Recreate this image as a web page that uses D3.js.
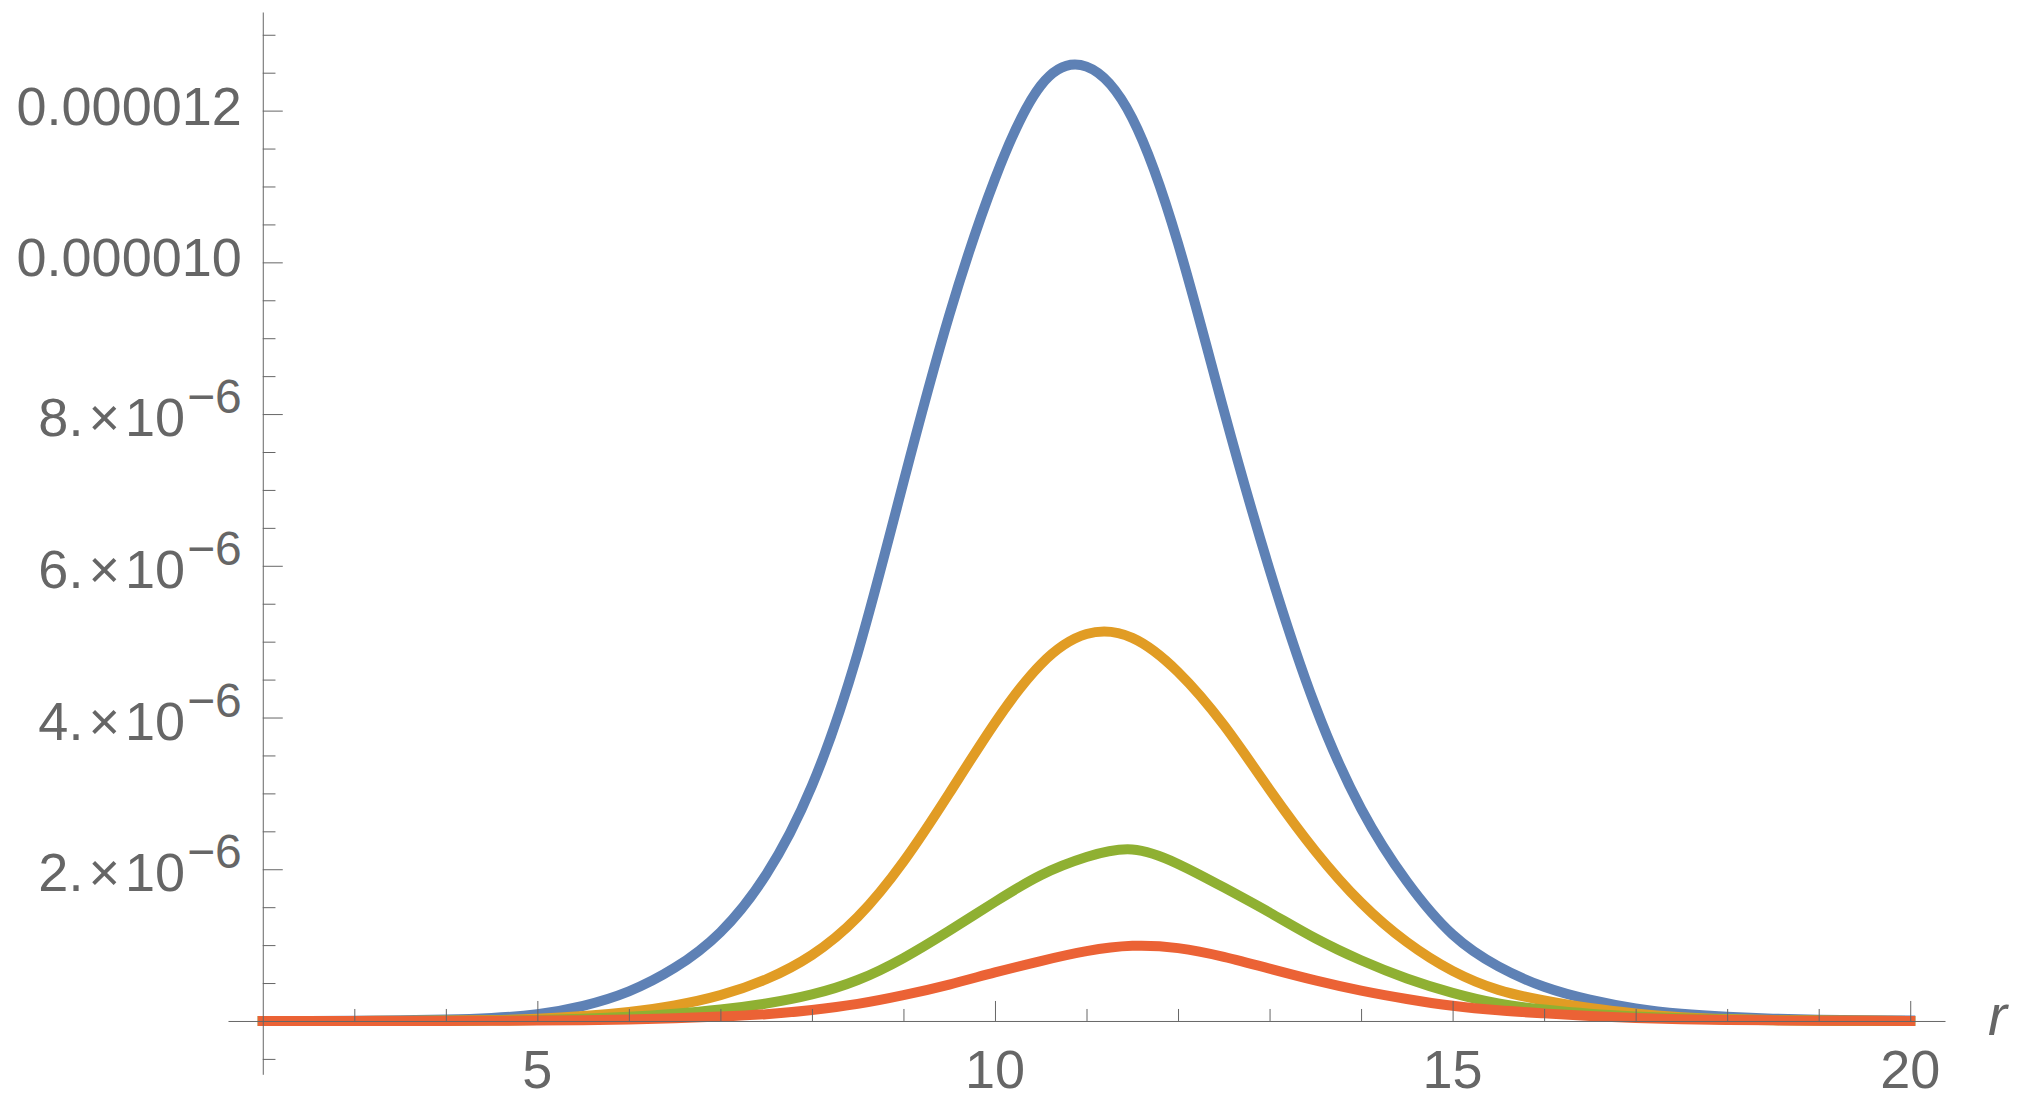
<!DOCTYPE html>
<html>
<head>
<meta charset="utf-8">
<script src="https://cdn.jsdelivr.net/npm/d3@7"></script>
<style>
    html, body { margin: 0; padding: 0; background: #fff; overflow: hidden; }
    svg { display: block; }
    .tick-label { fill: #666; font-family: "Liberation Sans", Arial, sans-serif; font-size: 54px; }
    .axis-title { fill: #666; font-family: "Liberation Sans", Arial, sans-serif; font-size: 57px; font-style: italic; }
</style>
</head>
<body>
<div id="chart"></div>
<script>
// r grid shared by all four curves
const rValues = [2, 2.5, 3, 3.5, 4, 4.5, 5, 5.5, 6, 6.5, 7, 7.5, 8, 8.5, 9, 9.5, 10, 10.5, 11, 11.5,
                 12, 12.5, 13, 13.5, 14, 14.5, 15, 15.5, 16, 16.5, 17, 17.5, 18, 18.5, 19, 19.5, 20];

// curve values, in units of 10^-6
const yUnit = 1e-6;
const blueValues = [0.0003, 0.001, 0.003, 0.008, 0.018, 0.04, 0.09, 0.2, 0.39, 0.7, 1.17, 1.93, 3.1, 4.85, 7.1, 9.3, 11.1, 12.33, 12.58, 11.9,
                    10.25, 8.05, 5.95, 4.15, 2.8, 1.84, 1.14, 0.72, 0.45, 0.28, 0.165, 0.095, 0.055, 0.03, 0.017, 0.01, 0.006];
const orangeValues = [0, 0.0002, 0.001, 0.002, 0.005, 0.012, 0.03, 0.065, 0.12, 0.205, 0.34, 0.55, 0.87, 1.37, 2.1, 3.0, 3.93, 4.7, 5.1, 5.05,
                      4.6, 3.9, 3.05, 2.24, 1.56, 1.04, 0.66, 0.41, 0.27, 0.17, 0.1, 0.05, 0.025, 0.012, 0.006, 0.003, 0.001];
const greenValues = [0, 0, 0.0003, 0.001, 0.002, 0.005, 0.012, 0.028, 0.055, 0.095, 0.15, 0.23, 0.35, 0.54, 0.83, 1.19, 1.57, 1.92, 2.16, 2.26,
                     2.07, 1.76, 1.43, 1.09, 0.8, 0.56, 0.37, 0.23, 0.15, 0.095, 0.06, 0.035, 0.02, 0.01, 0.005, 0.003, 0.001];
const redValues = [0, 0, 0, 0.0005, 0.001, 0.002, 0.005, 0.01, 0.02, 0.035, 0.058, 0.09, 0.145, 0.225, 0.34, 0.48, 0.64, 0.79, 0.92, 0.99,
                   0.96, 0.845, 0.69, 0.535, 0.4, 0.29, 0.2, 0.14, 0.1, 0.065, 0.04, 0.024, 0.014, 0.008, 0.004, 0.002, 0.001];
const seriesColors = ["#5e81b5", "#e19c24", "#8fb032", "#eb6235"];

// ticks
const xTicks = [5, 10, 15, 20];
const xTickLabels = ["5", "10", "15", "20"];
const xMinorTicks = [3, 4, 6, 7, 8, 9, 11, 12, 13, 14, 16, 17, 18, 19];
const yTicks = [2, 4, 6, 8, 10, 12];
const yTickLabels = ["2.×10^−6", "4.×10^−6", "6.×10^−6", "8.×10^−6", "0.000010", "0.000012"];
const yMinorTicks = [-0.5, 0.5, 1, 1.5, 2.5, 3, 3.5, 4.5, 5, 5.5, 6.5, 7, 7.5, 8.5, 9, 9.5, 10.5, 11, 11.5, 12.5, 13];
const xTitle = "r";

/** Plot of the four radial curves */
class RadialPlot {

    constructor(width, height) {
        this.svg = d3.select("#chart")
            .append("svg")
            .attr("width", width)
            .attr("height", height);

        this.svg.append("rect").attr("width", width).attr("height", height).attr("fill", "#fff");

        // axes cross at r = 2, y = 0
        this.x = d3.scaleLinear().domain([1.62, 20.38]).range([228, 1945]);
        this.y = d3.scaleLinear().domain([-0.703 * yUnit, 13.3 * yUnit]).range([1074.3, 12]);
    }

    drawCurves() {
        // natural spline keeps the bells smooth between the read points
        let line = d3.line()
            .x((d, i) => this.x(rValues[i]))
            .y(d => this.y(d * yUnit))
            .curve(d3.curveNatural);

        this.svg.append("g")
            .attr("class", "curves")
            .selectAll("path")
            .data([blueValues, orangeValues, greenValues, redValues])
            .join("path")
            .attr("d", line)
            .attr("fill", "none")
            .attr("stroke", (d, i) => seriesColors[i])
            .attr("stroke-width", 10)
            .attr("stroke-linecap", "square")
            .attr("stroke-linejoin", "round");
    }

    drawAxes() {
        let x0 = this.x(2);
        let y0 = this.y(0);

        // y axis - major + minor ticks pointing right into the plot
        let yMajor = d3.axisRight(this.y).tickValues(yTicks.map(v => v * yUnit))
            .tickSize(20).tickSizeOuter(0).tickFormat("");
        let yMinor = d3.axisRight(this.y).tickValues(yMinorTicks.map(v => v * yUnit))
            .tickSize(12.7).tickSizeOuter(0).tickFormat("");

        // x axis - ticks pointing up
        let xMajor = d3.axisTop(this.x).tickValues(xTicks)
            .tickSize(20).tickSizeOuter(0).tickFormat("");
        let xMinor = d3.axisTop(this.x).tickValues(xMinorTicks)
            .tickSize(12).tickSizeOuter(0).tickFormat("");

        let axes = this.svg.append("g").attr("class", "axes").attr("color", "#666");

        axes.append("g").attr("transform", `translate(${x0},0)`).call(yMajor);
        axes.append("g").attr("transform", `translate(${x0},0)`).call(yMinor)
            .call(g => g.select(".domain").remove());
        axes.append("g").attr("transform", `translate(0,${y0})`).call(xMajor);
        axes.append("g").attr("transform", `translate(0,${y0})`).call(xMinor)
            .call(g => g.select(".domain").remove());
    }

    drawLabels() {
        let x0 = this.x(2);
        let y0 = this.y(0);

        // y tick labels, some with a 10^-6 superscript
        let yLab = this.svg.append("g").attr("class", "y-labels");
        yTickLabels.forEach((lab, i) => {
            let parts = lab.split("^");
            let ty = this.y(yTicks[i] * yUnit);
            let t = yLab.append("text")
                .attr("class", "tick-label")
                .attr("text-anchor", "end")
                .attr("x", x0 - 21);
            if (parts.length == 1) {
                t.attr("y", ty + 14).text(lab);
            } else {
                let mant = parts[0].split("×");
                t.attr("y", ty + 22);
                t.append("tspan").text(mant[0]);
                t.append("tspan").attr("dx", 5).text("×");
                t.append("tspan").attr("dx", 5).text(mant[1]);
                t.append("tspan").attr("dx", 2).attr("dy", -23)
                    .style("font-size", "48px").text(parts[1]);
            }
        });

        // x tick labels
        this.svg.append("g").attr("class", "x-labels")
            .selectAll("text")
            .data(xTicks)
            .join("text")
            .attr("class", "tick-label")
            .attr("text-anchor", "middle")
            .attr("x", d => this.x(d))
            .attr("y", y0 + 67)
            .text((d, i) => xTickLabels[i]);

        this.svg.append("text")
            .attr("class", "axis-title")
            .attr("x", 1988)
            .attr("y", 1035)
            .text(xTitle);
    }
}

let plot = new RadialPlot(2027, 1102);
plot.drawCurves();
plot.drawAxes();   // axes sit on top of the curves, like the original
plot.drawLabels();
</script>
</body>
</html>
